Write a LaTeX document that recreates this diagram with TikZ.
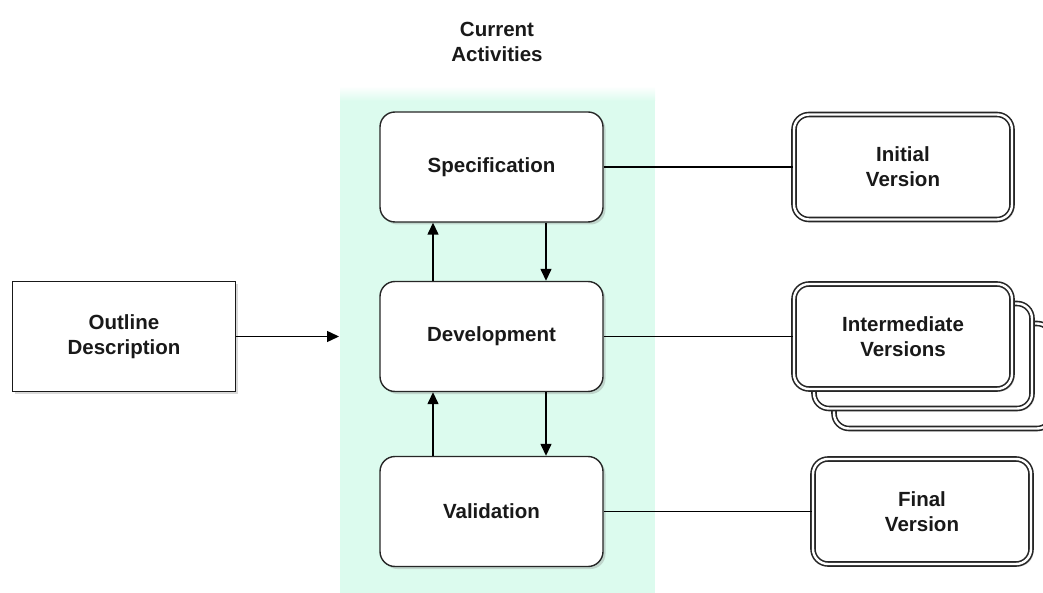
\documentclass[tikz,border=0pt]{standalone}
\usepackage{fontspec}
\setmainfont{Liberation Sans}
\usetikzlibrary{arrows.meta,shadows}
\definecolor{mint}{RGB}{220,251,238}
\tikzset{
  lbl/.style={font=\fontsize{20.5}{25}\selectfont\bfseries, align=center, text=black!90},
  act/.style={draw=black!85, line width=1.4pt, rounded corners=15pt, fill=white,
    minimum width=223pt, minimum height=110pt, lbl,
    drop shadow={opacity=0.3, shadow xshift=2.5pt, shadow yshift=-2.5pt}},
  ver/.style={draw=black!85, double=white, double distance=2.4pt, line width=1.6pt,
    rounded corners=15pt, fill=white, minimum width=218pt, minimum height=105pt, lbl,
    drop shadow={opacity=0.3, shadow xshift=2.5pt, shadow yshift=-2.5pt}},
  inbox/.style={draw=black!90, line width=1.4pt, fill=white, minimum width=223pt,
    minimum height=110pt, lbl, drop shadow={opacity=0.3, shadow xshift=2.5pt, shadow yshift=-2.5pt}},
  arr/.style={draw=black, line width=1.4pt, -{Triangle[length=12pt,width=11pt]}},
  link/.style={draw=black, line width=1.4pt}
}
\begin{document}
\begin{tikzpicture}[x=1pt,y=-1pt]
\useasboundingbox (0,0) rectangle (1043,593);
% background band
\fill[mint] (340,100) rectangle (655,593);
\shade[top color=white, bottom color=mint] (340,86) rectangle (655,101);
% title
\node[lbl] (title) at (497,42) {Current\\Activities};
% activities
\node[act] (spec) at (491.5,167) {Specification};
\node[act] (dev) at (491.5,336.5) {Development};
\node[act] (val) at (491.5,511.5) {Validation};
% input
\node[inbox] (outline) at (124,336.5) {Outline\\Description};
\coordinate (inend) at (339,336.5);
\draw[arr] (outline.east) -- (inend);
% arrows between activities
\draw[arr] (dev.north -| 433,0) -- (spec.south -| 433,0);
\draw[arr] (spec.south -| 546,0) -- (dev.north -| 546,0);
\draw[arr] (val.north -| 433,0) -- (dev.south -| 433,0);
\draw[arr] (dev.south -| 546,0) -- (val.north -| 546,0);
% versions
\node[ver] (init) at (903,167) {Initial\\Version};
\node[ver] (inter3) at (943,376) {};
\node[ver] (inter2) at (923,356) {};
\node[ver] (inter) at (903,336.5) {Intermediate\\Versions};
\node[ver] (final) at (922,511.5) {Final\\Version};
\draw[link] (spec.east) -- (init.west);
\draw[link] (dev.east) -- (inter.west);
\draw[link] (val.east) -- (final.west);
\end{tikzpicture}
\end{document}
